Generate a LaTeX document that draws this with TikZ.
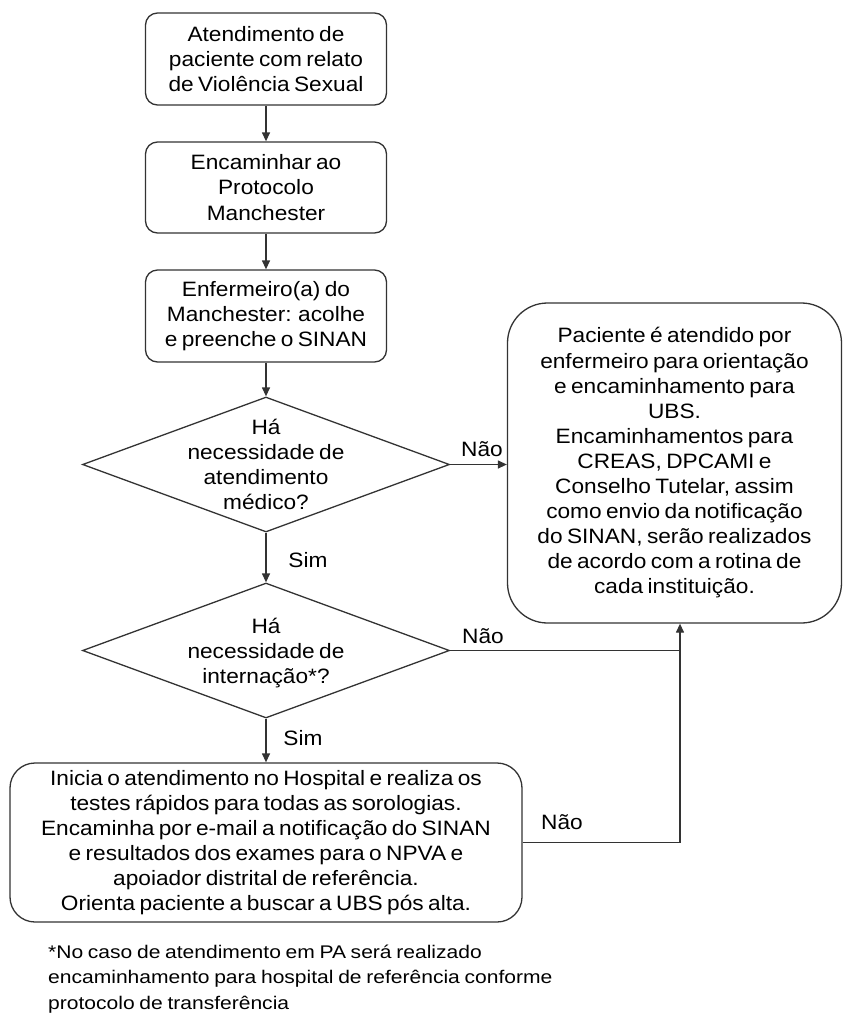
\documentclass[tikz,border=0pt]{standalone}
\usepackage{fontspec}
\setmainfont[FakeStretch=1.09,WordSpace=0.7]{Liberation Sans}
\newfontfamily\notefont[FakeStretch=1.15,WordSpace=0.8]{Liberation Sans}
\usetikzlibrary{shapes.geometric,arrows.meta}
\begin{document}
\begin{tikzpicture}[x=1pt,y=-1pt,
  every node/.style={font=\fontsize{20.8}{25.1}\selectfont, inner sep=0pt},
  line/.style={line width=1.3pt, draw=black!80},
  arr/.style={line, -{Triangle[length=9pt,width=8pt]}},
  stepbox/.style={line, rectangle, rounded corners=12pt, minimum width=241pt, minimum height=92pt, align=center},
  decision/.style={line, diamond, minimum width=367pt, minimum height=135pt},
  tag/.style={}
]
\useasboundingbox (0,0) rectangle (843,1013);

% main column of steps
\node[stepbox] (b1) at (266,59) {Atendimento de\\paciente com relato\\de Violência Sexual};
\node[stepbox, minimum height=91pt] (b2) at (266,187.5) {Encaminhar ao\\Protocolo\\Manchester};
\node[stepbox] (b3) at (266,316) {Enfermeiro(a) do\\Manchester: acolhe\\e preenche o SINAN};

% decisions
\node[decision] (d1) at (266,464.5) {};
\node[align=center] (t1) at (266,464.5) {Há\\necessidade de\\atendimento\\médico?};
\node[decision] (d2) at (266,650.5) {};
\node[align=center] (t2) at (266,653) {Há\\necessidade de\\internação*?};

% outcome boxes
\node[line, rectangle, rounded corners=40pt, minimum width=334pt, minimum height=320pt, align=center] (rb) at (674.5,463)
  {Paciente é atendido por\\enfermeiro para orientação\\e encaminhamento para\\UBS.\\Encaminhamentos para\\CREAS, DPCAMI e\\Conselho Tutelar, assim\\como envio da notificação\\do SINAN, serão realizados\\de acordo com a rotina de\\cada instituição.};
\node[line, rectangle, rounded corners=25pt, minimum width=512pt, minimum height=159pt, align=center] (bb) at (266,842.5)
  {Inicia o atendimento no Hospital e realiza os\\testes rápidos para todas as sorologias.\\Encaminha por e-mail a notificação do SINAN\\e resultados dos exames para o NPVA e\\apoiador distrital de referência.\\Orienta paciente a buscar a UBS pós alta.};

% connectors
\coordinate (jx) at (680,0);
\draw[arr] (b1) -- (b2);
\draw[arr] (b2) -- (b3);
\draw[arr] (b3) -- (d1);
\draw[arr] (d1) -- (d2);
\draw[arr] (d2) -- (bb);
\draw[arr] (d1.east) -- (d1.east -| rb.west);
\draw[line] (d2.east) -- (d2.east -| jx);
\draw[arr] (bb.east) -| (jx |- rb.south);

% branch labels
\node[tag] (s1) at (308,560) {Sim};
\node[tag] (s2) at (303,738) {Sim};
\node[tag] (n1) at (482,449) {Não};
\node[tag] (n2) at (483,636) {Não};
\node[tag] (n3) at (562,822) {Não};

% footnote
\node[align=left, anchor=west, font=\notefont\fontsize{18.3}{25.5}\selectfont] (fn) at (48,979)
  {*No caso de atendimento em PA será realizado\\encaminhamento para hospital de referência conforme\\protocolo de transferência};
\end{tikzpicture}
\end{document}
